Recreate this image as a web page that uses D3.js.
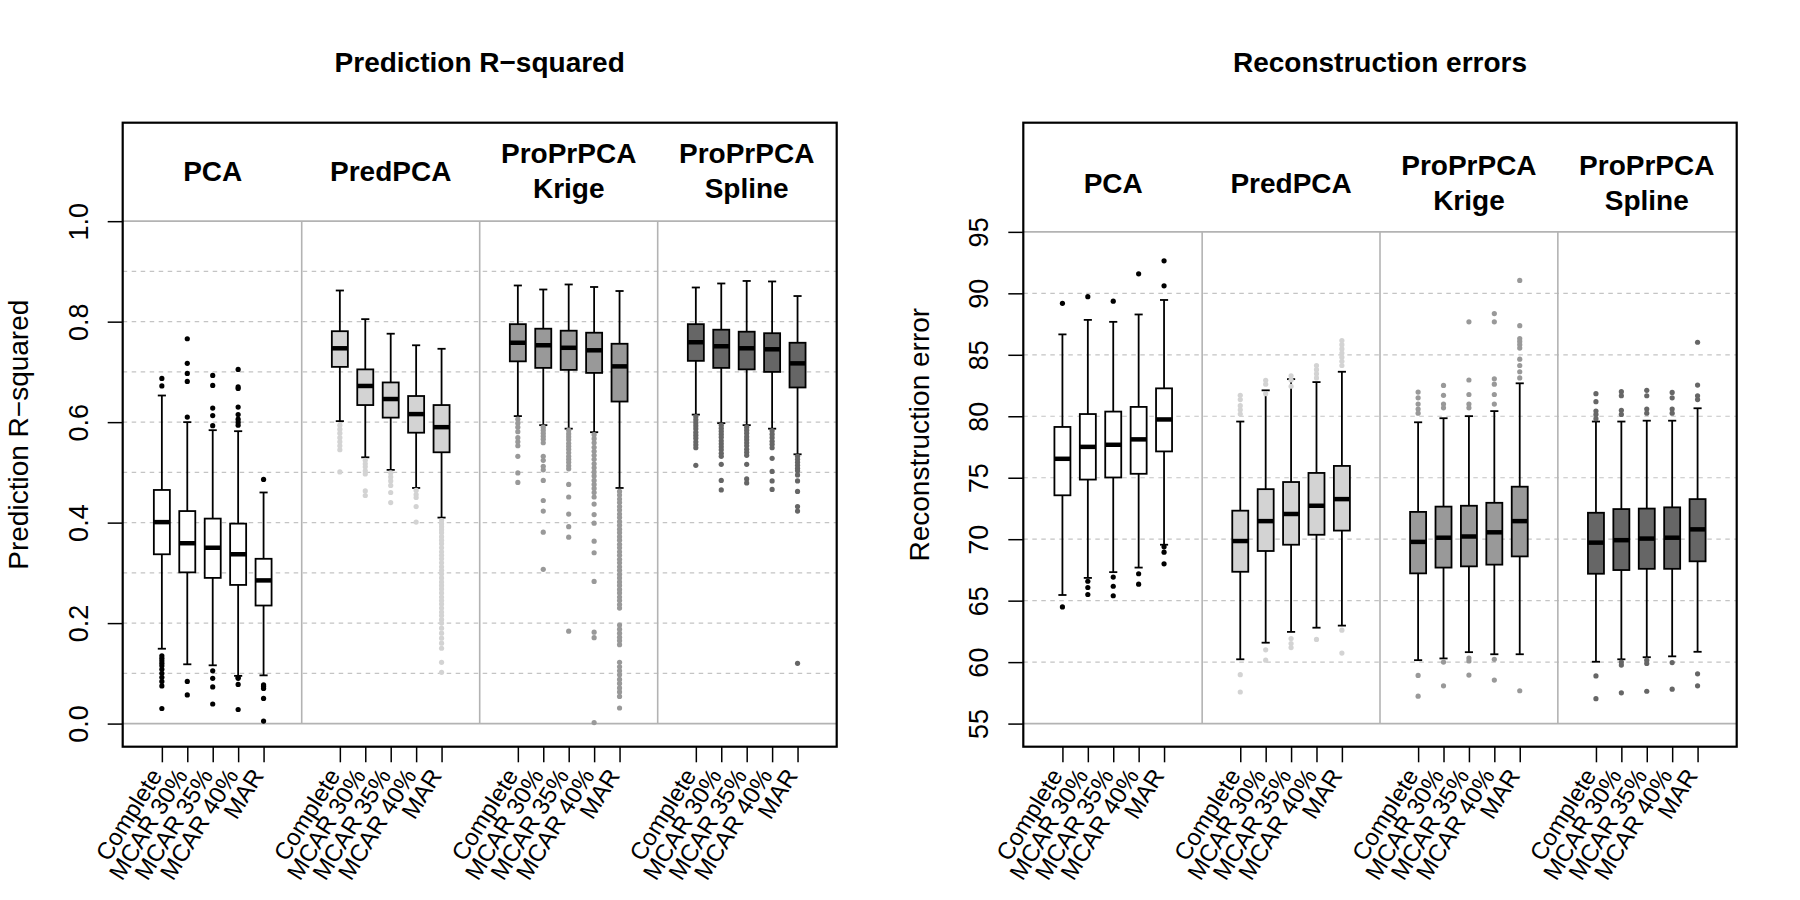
<!DOCTYPE html>
<html>
<head>
<meta charset="utf-8">
<script src="https://cdn.jsdelivr.net/npm/d3@7"></script>
<style>
  body { margin: 0; background: #fff; }
  svg { font-family: "Liberation Sans", Arial, Helvetica, sans-serif; }
</style>
</head>
<body>
<div id="chart"></div>
<script>
const methods = ["PCA", "PredPCA", "ProPrPCA\nKrige", "ProPrPCA\nSpline"];
const scenarios = ["Complete", "MCAR 30%", "MCAR 35%", "MCAR 40%", "MAR"];

const r2Ticks = [0, 0.2, 0.4, 0.6, 0.8, 1.0];
const r2Dashed = [0.1, 0.2, 0.3, 0.4, 0.5, 0.6, 0.7, 0.8, 0.9];
const reTicks = [55, 60, 65, 70, 75, 80, 85, 90, 95];
const reDashed = [60, 65, 70, 75, 80, 85, 90];

// [lower whisker, Q1, median, Q3, upper whisker], 5 scenarios per method
const r2Stats = [
  [0.149, 0.337, 0.401, 0.465, 0.653],
  [0.118, 0.301, 0.359, 0.423, 0.6],
  [0.116, 0.29, 0.35, 0.408, 0.584],
  [0.095, 0.276, 0.337, 0.398, 0.582],
  [0.096, 0.235, 0.285, 0.328, 0.46],
  [0.602, 0.71, 0.747, 0.781, 0.862],
  [0.53, 0.634, 0.672, 0.705, 0.805],
  [0.505, 0.609, 0.646, 0.679, 0.776],
  [0.469, 0.579, 0.616, 0.652, 0.753],
  [0.41, 0.54, 0.59, 0.634, 0.746],
  [0.612, 0.721, 0.758, 0.795, 0.872],
  [0.594, 0.708, 0.753, 0.786, 0.864],
  [0.587, 0.704, 0.748, 0.782, 0.874],
  [0.58, 0.698, 0.743, 0.778, 0.869],
  [0.469, 0.641, 0.711, 0.756, 0.861],
  [0.615, 0.722, 0.759, 0.795, 0.868],
  [0.598, 0.708, 0.751, 0.784, 0.876],
  [0.594, 0.705, 0.747, 0.78, 0.881],
  [0.587, 0.7, 0.745, 0.777, 0.88],
  [0.536, 0.669, 0.717, 0.758, 0.851],
];

const r2Outliers = [
  [0.687, 0.672, 0.135, 0.13, 0.125, 0.12, 0.115, 0.108, 0.1, 0.092, 0.084, 0.075, 0.03],
  [0.766, 0.717, 0.697, 0.681, 0.61, 0.084, 0.057],
  [0.693, 0.673, 0.628, 0.613, 0.593, 0.105, 0.09, 0.073, 0.039],
  [0.705, 0.67, 0.667, 0.63, 0.615, 0.606, 0.6, 0.594, 0.092, 0.09, 0.078, 0.028],
  [0.486, 0.077, 0.074, 0.07, 0.05, 0.005],
  [0.594, 0.586, 0.578, 0.569, 0.561, 0.553, 0.545, 0.501],
  [0.524, 0.517, 0.511, 0.503, 0.497, 0.463, 0.454],
  [0.499, 0.491, 0.483, 0.474, 0.46, 0.44],
  [0.464, 0.456, 0.45, 0.432, 0.401],
  [0.404, 0.398, 0.392, 0.386, 0.38, 0.372, 0.365, 0.358, 0.35, 0.342, 0.335, 0.328,
   0.32, 0.312, 0.305, 0.298, 0.29, 0.282, 0.275, 0.268, 0.26, 0.252, 0.245, 0.238,
   0.23, 0.222, 0.215, 0.207, 0.2, 0.19, 0.18, 0.17, 0.16, 0.15, 0.122, 0.102],
  [0.606, 0.598, 0.59, 0.581, 0.569, 0.561, 0.553, 0.532, 0.499, 0.48],
  [0.59, 0.584, 0.578, 0.572, 0.566, 0.559, 0.532, 0.524, 0.512, 0.505, 0.484, 0.444,
   0.423, 0.381, 0.307],
  [0.584, 0.577, 0.571, 0.565, 0.558, 0.552, 0.546, 0.539, 0.532, 0.526, 0.52, 0.513,
   0.507, 0.476, 0.451, 0.417, 0.392, 0.371, 0.184],
  [0.575, 0.567, 0.559, 0.55, 0.542, 0.534, 0.526, 0.517, 0.509, 0.501, 0.493, 0.484,
   0.476, 0.468, 0.46, 0.451, 0.437, 0.416, 0.399, 0.363, 0.34, 0.283, 0.182, 0.171, 0.002],
  [0.462, 0.455, 0.447, 0.44, 0.432, 0.425, 0.417, 0.41, 0.402, 0.395, 0.387, 0.38,
   0.372, 0.365, 0.357, 0.35, 0.342, 0.335, 0.327, 0.32, 0.312, 0.305, 0.297, 0.29,
   0.282, 0.275, 0.267, 0.26, 0.252, 0.245, 0.237, 0.23, 0.196, 0.188, 0.18, 0.172,
   0.165, 0.157, 0.122, 0.113, 0.105, 0.097, 0.088, 0.08, 0.071, 0.063, 0.054, 0.031],
  [0.611, 0.605, 0.599, 0.593, 0.587, 0.58, 0.574, 0.568, 0.561, 0.555, 0.549, 0.514],
  [0.594, 0.588, 0.582, 0.576, 0.57, 0.563, 0.557, 0.551, 0.545, 0.538, 0.532, 0.516,
   0.484, 0.465],
  [0.59, 0.584, 0.578, 0.571, 0.565, 0.559, 0.553, 0.546, 0.54, 0.534, 0.516, 0.487, 0.479],
  [0.583, 0.576, 0.569, 0.562, 0.556, 0.549, 0.528, 0.502, 0.483, 0.466],
  [0.532, 0.526, 0.52, 0.514, 0.508, 0.503, 0.495, 0.483, 0.462, 0.432, 0.423, 0.12],
];

const reStats = [
  [65.46, 73.57, 76.54, 79.13, 86.66],
  [66.85, 74.85, 77.51, 80.18, 87.84],
  [67.32, 75.02, 77.68, 80.38, 87.68],
  [67.69, 75.32, 78.12, 80.76, 88.28],
  [69.55, 77.14, 79.74, 82.27, 89.46],
  [60.23, 67.35, 69.85, 72.32, 79.57],
  [61.58, 69.04, 71.47, 74.07, 82.11],
  [62.46, 69.55, 72.05, 74.65, 83.02],
  [62.8, 70.36, 72.72, 75.39, 82.78],
  [62.97, 70.7, 73.26, 75.96, 83.62],
  [60.16, 67.22, 69.78, 72.22, 79.51],
  [60.3, 67.69, 70.12, 72.65, 79.84],
  [60.81, 67.79, 70.22, 72.72, 80.01],
  [60.64, 67.93, 70.56, 72.96, 80.42],
  [60.64, 68.6, 71.47, 74.27, 82.68],
  [60.03, 67.19, 69.72, 72.15, 79.57],
  [60.23, 67.49, 69.92, 72.45, 79.57],
  [60.4, 67.59, 70.05, 72.49, 79.64],
  [60.47, 67.59, 70.12, 72.59, 79.64],
  [60.84, 68.2, 70.8, 73.26, 80.65],
];

const reOutliers = [
  [89.19, 64.49],
  [89.73, 66.58, 66.07, 65.5],
  [89.36, 66.92, 66.17, 65.4],
  [91.59, 67.19, 66.34],
  [92.64, 90.61, 69.38, 68.94, 68.0],
  [81.7, 81.36, 80.86, 80.52, 80.18, 58.98, 57.57],
  [82.92, 82.61, 81.84, 61.0, 60.16],
  [83.29, 82.95, 82.44, 61.92, 61.51, 61.18],
  [84.13, 83.79, 83.46, 83.12, 61.85],
  [86.16, 85.82, 85.48, 85.14, 84.81, 84.47, 84.13, 62.6, 60.74],
  [81.97, 81.5, 80.99, 80.59, 80.25, 58.92, 57.23],
  [82.51, 81.7, 80.99, 80.69, 60.0, 58.07],
  [87.68, 82.95, 81.77, 80.99, 80.69, 60.33, 60.1, 58.95],
  [88.35, 87.68, 83.05, 82.61, 81.77, 80.99, 60.23, 58.54],
  [91.05, 87.37, 86.32, 86.09, 85.82, 85.55, 84.64, 84.13, 83.62, 83.12, 57.67],
  [81.84, 81.19, 80.42, 80.15, 79.8, 58.88, 57.03],
  [82.0, 81.67, 80.49, 80.15, 60.0, 59.76, 57.5],
  [82.11, 81.67, 80.59, 80.25, 60.16, 59.89, 57.63],
  [81.94, 81.5, 80.59, 80.25, 59.96, 57.8],
  [86.02, 82.54, 81.67, 81.36, 59.05, 58.07],
];

const boxFills = ["#ffffff", "#d3d3d3", "#999999", "#666666"];
const dotFills = ["#000000", "#d3d3d3", "#999999", "#666666"];

const size = { width: 1800, height: 900 };
const plotTop = 122.7;
const plotBottom = 746.7;

const svg = d3
  .select("#chart")
  .append("svg")
  .attr("width", size.width)
  .attr("height", size.height);

const makePanel = (p) => {
  const g = svg.append("g");
  // R style: 4% padding on each side of the limits
  const x = d3
    .scaleLinear()
    .domain([0.5 - 1.04, 26.5 + 1.04])
    .range([p.left, p.right]);
  const pad = (p.ylim[1] - p.ylim[0]) * 0.04;
  const y = d3
    .scaleLinear()
    .domain([p.ylim[0] - pad, p.ylim[1] + pad])
    .range([plotBottom, plotTop]);

  const posOf = (k) => Math.floor(k / 5) * 7 + (k % 5) + 1;

  // grid
  p.dashed.forEach((v) => {
    g.append("line")
      .attr("x1", p.left)
      .attr("x2", p.right)
      .attr("y1", y(v))
      .attr("y2", y(v))
      .attr("stroke", "#c4c4c4")
      .attr("stroke-width", 1.2)
      .attr("stroke-dasharray", "4.5,4.5");
  });
  p.solid.forEach((v) => {
    g.append("line")
      .attr("x1", p.left)
      .attr("x2", p.right)
      .attr("y1", y(v))
      .attr("y2", y(v))
      .attr("stroke", "#b3b3b3")
      .attr("stroke-width", 1.6);
  });
  [6.5, 13.5, 20.5].forEach((s) => {
    g.append("line")
      .attr("x1", x(s))
      .attr("x2", x(s))
      .attr("y1", y(p.solid[0]))
      .attr("y2", y(p.solid[1]))
      .attr("stroke", "#b3b3b3")
      .attr("stroke-width", 1.6);
  });

  // strip labels
  methods.forEach((m, i) => {
    const lines = m.split("\n");
    const t = g
      .append("text")
      .attr("x", x(i * 7 + 3))
      .attr("y", y(p.stripY) + 10 - ((lines.length - 1) * 35) / 2)
      .attr("text-anchor", "middle")
      .attr("font-weight", "bold")
      .attr("font-size", 28);
    lines.forEach((l, j) => {
      t.append("tspan")
        .attr("x", x(i * 7 + 3))
        .attr("dy", j === 0 ? 0 : 35)
        .text(l);
    });
  });

  // boxes
  const halfBox = 0.315;
  const halfStaple = 0.16;
  p.stats.forEach((s, k) => {
    const pos = posOf(k);
    const grp = Math.floor(k / 5);
    const b = g.append("g");
    b.append("line")
      .attr("x1", x(pos))
      .attr("x2", x(pos))
      .attr("y1", y(s[0]))
      .attr("y2", y(s[1]));
    b.append("line")
      .attr("x1", x(pos))
      .attr("x2", x(pos))
      .attr("y1", y(s[3]))
      .attr("y2", y(s[4]));
    [s[0], s[4]].forEach((v) => {
      b.append("line")
        .attr("x1", x(pos - halfStaple))
        .attr("x2", x(pos + halfStaple))
        .attr("y1", y(v))
        .attr("y2", y(v));
    });
    b.selectAll("line").attr("stroke", "#000").attr("stroke-width", 1.8);
    b.append("rect")
      .attr("x", x(pos - halfBox))
      .attr("width", x(pos + halfBox) - x(pos - halfBox))
      .attr("y", y(s[3]))
      .attr("height", y(s[1]) - y(s[3]))
      .attr("fill", boxFills[grp])
      .attr("stroke", "#000")
      .attr("stroke-width", 1.8);
    b.append("line")
      .attr("x1", x(pos - halfBox))
      .attr("x2", x(pos + halfBox))
      .attr("y1", y(s[2]))
      .attr("y2", y(s[2]))
      .attr("stroke", "#000")
      .attr("stroke-width", 4.5);
    b.selectAll("circle")
      .data(p.outliers[k])
      .join("circle")
      .attr("cx", x(pos))
      .attr("cy", (d) => y(d))
      .attr("r", 2.6)
      .attr("fill", dotFills[grp]);
  });

  // y axis
  const yAxis = g
    .append("g")
    .attr("transform", `translate(${p.left}, 0)`)
    .call(
      d3
        .axisLeft(y)
        .tickValues(p.ticks)
        .tickSize(15)
        .tickSizeOuter(0)
        .tickFormat(p.fmt)
    );
  yAxis.select(".domain").remove();
  yAxis.selectAll("line").attr("stroke", "#000").attr("stroke-width", 1.5);
  yAxis
    .selectAll("text")
    .attr("x", 0)
    .attr("y", -35)
    .attr("dy", 0)
    .attr("transform", "rotate(-90)")
    .attr("text-anchor", "middle")
    .attr("fill", "#000")
    .attr("font-size", 27)
    .attr("font-family", null);

  // x axis
  const positions = scenarios.flatMap((_, i) =>
    methods.map((_, j) => j * 7 + i + 1)
  );
  const xAxis = g
    .append("g")
    .attr("transform", `translate(0, ${plotBottom})`)
    .call(d3.axisBottom(x).tickValues(positions).tickSize(15.6).tickFormat(""));
  xAxis.select(".domain").remove();
  xAxis.selectAll("line").attr("stroke", "#000").attr("stroke-width", 1.5);

  methods.forEach((_, j) => {
    scenarios.forEach((sc, i) => {
      const px = x(j * 7 + i + 1);
      g.append("text")
        .attr("transform", `translate(${px - 6}, 771) rotate(-58)`)
        .attr("text-anchor", "end")
        .attr("dominant-baseline", "central")
        .attr("font-size", 24)
        .text(sc);
    });
  });

  // frame
  g.append("rect")
    .attr("x", p.left)
    .attr("y", plotTop)
    .attr("width", p.right - p.left)
    .attr("height", plotBottom - plotTop)
    .attr("fill", "none")
    .attr("stroke", "#000")
    .attr("stroke-width", 2.2);

  // titles
  g.append("text")
    .attr("x", (p.left + p.right) / 2)
    .attr("y", 72)
    .attr("text-anchor", "middle")
    .attr("font-weight", "bold")
    .attr("font-size", 28)
    .text(p.title);
  g.append("text")
    .attr("transform", `translate(${p.left - 94.4}, ${(plotTop + plotBottom) / 2}) rotate(-90)`)
    .attr("text-anchor", "middle")
    .attr("font-size", 28)
    .text(p.ylab);
};

makePanel({
  left: 122.7,
  right: 836.7,
  ylim: [0, 1.15],
  stats: r2Stats,
  outliers: r2Outliers,
  ticks: r2Ticks,
  dashed: r2Dashed,
  solid: [1.0, 0],
  fmt: d3.format(".1f"),
  stripY: 1.1,
  title: "Prediction R\u2212squared",
  ylab: "Prediction R\u2212squared",
});

makePanel({
  left: 1023.3,
  right: 1736.7,
  ylim: [55, 102],
  stats: reStats,
  outliers: reOutliers,
  ticks: reTicks,
  dashed: reDashed,
  solid: [95, 55],
  fmt: d3.format("d"),
  stripY: 99,
  title: "Reconstruction errors",
  ylab: "Reconstruction error",
});
</script>
</body>
</html>
